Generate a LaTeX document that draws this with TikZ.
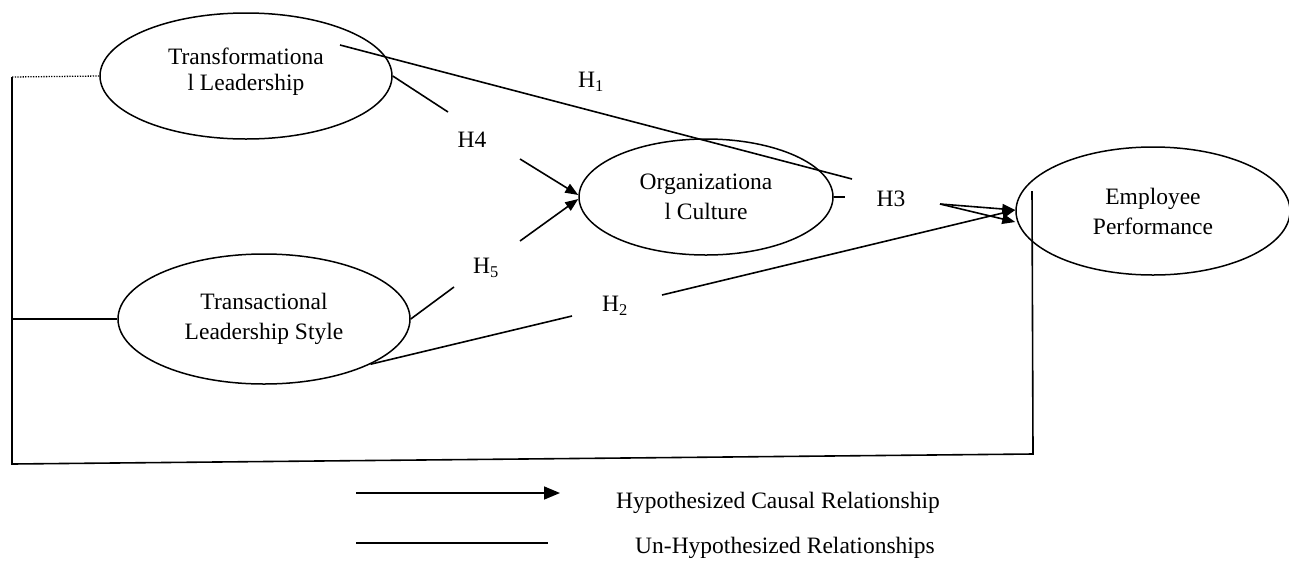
\documentclass[tikz,border=0pt]{standalone}
\usepackage{fontspec}
\setmainfont{Liberation Serif}
\usetikzlibrary{arrows.meta,shapes.geometric}
\begin{document}
\begin{tikzpicture}[x=1pt,y=-1pt,
  every node/.style={font=\fontsize{23.5}{30}\selectfont},
  ell/.style={draw, ellipse, line width=1.5pt, inner sep=0pt, align=center},
  ln/.style={line width=1.6pt},
  arr/.style={ln, -{Triangle[length=13pt,width=10pt]}},
  lab/.style={inner sep=0pt}]
\useasboundingbox (0,0) rectangle (1289,560);

% constructs
\node[ell, minimum width=292pt, minimum height=126pt] (tl) at (246,76) {};
\node[lab, align=center] (tlt) at (246,72) {Transformationa\\[-4pt]l Leadership};
\node[ell, minimum width=254pt, minimum height=116pt] (oc) at (706,197) {Organizationa\\l Culture};
\node[ell, minimum width=274pt, minimum height=128pt] (ep) at (1153,211) {Employee\\Performance};
\node[ell, minimum width=292pt, minimum height=130pt] (ts) at (264,319) {Transactional\\Leadership Style};

% hypothesis labels
\node[lab] (H1) at (591,82) {H\textsubscript{1}};
\node[lab] (H4) at (472,140) {H4};
\node[lab] (H5) at (486,268) {H\textsubscript{5}};
\node[lab] (H2) at (615,306) {H\textsubscript{2}};
\node[lab] (H3) at (891,199) {H3};

% free ends
\coordinate (dotL) at (12,77);
\coordinate (midL) at (12,319);
\coordinate (botL) at (12,464);
\coordinate (botR) at (1033,454);
\coordinate (topR) at (1032,191);
\coordinate (h1s) at (340,45);
\coordinate (h1e) at (852,179);
\coordinate (h4a) at (448,112);
\coordinate (h4b) at (520,159);
\coordinate (h5a) at (454,287);
\coordinate (h5b) at (520,241);
\coordinate (h2a) at (572,316);
\coordinate (h2b) at (662,295);
\coordinate (h3a) at (845,197);
\coordinate (h3b) at (940,204);

% outer frame
\draw[line width=1.3pt, dash pattern=on 1.3pt off 1.3pt] (tl.west) -- (dotL);
\draw[ln] (dotL) -- (botL) -- (botR) -- (topR);
\draw[ln] (midL) -- (ts.west);

% H1
\draw[ln] (h1s) -- (h1e);
% H4
\draw[ln] (tl.east) -- (h4a);
\draw[arr] (h4b) -- ([yshift=2pt]oc.west);
% H5
\draw[ln] (ts.east) -- (h5a);
\draw[arr] (h5b) -- ([yshift=-2pt]oc.west);
% H2
\draw[ln] (ts.-23) -- (h2a);
\draw[arr] (h2b) -- ([yshift=1pt]ep.west);
% H3
\draw[ln] (oc.east) -- (h3a);
\draw[arr] (h3b) -- ([yshift=1pt]ep.west);
\draw[arr] (h3b) -- ([yshift=-11pt]ep.west);

% legend
\coordinate (la1) at (356,493);
\coordinate (la2) at (560,493);
\coordinate (lb1) at (356,543);
\coordinate (lb2) at (548,543);
\draw[ln, -{Triangle[length=16pt,width=13pt]}] (la1) -- (la2);
\draw[ln] (lb1) -- (lb2);
\node[lab] (lt1) at (778,503) {Hypothesized Causal Relationship};
\node[lab] (lt2) at (785,548) {Un-Hypothesized Relationships};
\end{tikzpicture}
\end{document}
